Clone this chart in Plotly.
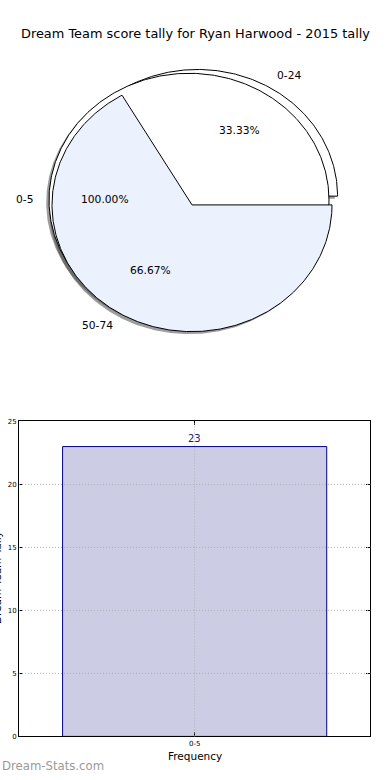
import numpy as np
import plotly.graph_objects as go

# ---------------- data ----------------
title_text = "Dream Team score tally for Ryan Harwood - 2015 tally"
pie_a_labels = ["0-24", "50-74"]
pie_a_values = [1, 2]
pie_a_explode = [0.08, 0.0]
pie_a_colors = ["#ffffff", "#ebf1fd"]
pie_b_labels = ["0-5"]
pie_b_values = [23]
pie_b_colors = ["#ffffff"]
bar_categories = ["0-5"]
bar_values = [23]
y_ticks = [0, 5, 10, 15, 20, 25]
x_label = "Frequency"
y_label = "Dream Team Tally"
watermark = "Dream-Stats.com"

# ---------------- geometry / style ----------------
W, H = 390, 780
FONT = "DejaVu Sans"
PIE_CX_PX, PIE_CY_PX, PIE_RX_PX, PIE_RY_PX = 192, 203, 140, 128
PIE_TOP_PX, PIE_BOT_PX = 40, 380
B_OFFSET = (-3 / PIE_RX_PX, 5 / PIE_RY_PX)
SHADOW_OFF = (-0.02, -0.02)
SHADOW_COLOR = "rgba(60,60,60,0.5)"
GRID = dict(color="#b0b0b0", width=1, dash="1px,2px")

fig = go.Figure()


def wedge_xy(cx, cy, t1, t2, full=False):
    n = max(8, int(abs(t2 - t1) * 1.5))
    t = np.radians(np.linspace(t1, t2, n))
    xs = cx + np.cos(t)
    ys = cy + np.sin(t)
    if full:
        return list(xs) + [xs[0]], list(ys) + [ys[0]]
    return [cx] + list(xs) + [cx], [cy] + list(ys) + [cy]


def pie_wedges(values, explode, base):
    total = float(sum(values))
    out = []
    start = 0.0
    for i, v in enumerate(values):
        frac = v / total
        t1, t2 = start, start + 360 * frac
        mid = np.radians((t1 + t2) / 2)
        e = explode[i] if explode else 0.0
        cx = base[0] + e * np.cos(mid)
        cy = base[1] + e * np.sin(mid)
        out.append(dict(t1=t1, t2=t2, mid=mid, cx=cx, cy=cy, frac=frac,
                        full=(frac >= 0.9999)))
        start = t2
    return out


wa = pie_wedges(pie_a_values, pie_a_explode, (0.0, 0.0))
wb = pie_wedges(pie_b_values, None, B_OFFSET)


def add_poly(xs, ys, fill, line_color, line_width):
    fig.add_trace(go.Scatter(
        x=xs, y=ys, mode="lines", fill="toself", fillcolor=fill,
        line=dict(color=line_color, width=line_width),
        xaxis="x2", yaxis="y2", hoverinfo="skip", showlegend=False))


# shadows
for w in wa + wb:
    xs, ys = wedge_xy(w["cx"] + SHADOW_OFF[0], w["cy"] + SHADOW_OFF[1],
                      w["t1"], w["t2"], w["full"])
    add_poly(xs, ys, SHADOW_COLOR, "rgba(0,0,0,0)", 0)

# draw order: exploded first wedge of A, then B, then rest of A
order = [(wa[0], pie_a_colors[0])] + [(w, pie_b_colors[i]) for i, w in enumerate(wb)] + \
        [(w, pie_a_colors[i + 1]) for i, w in enumerate(wa[1:])]
for w, col in order:
    xs, ys = wedge_xy(w["cx"], w["cy"], w["t1"], w["t2"], w["full"])
    add_poly(xs, ys, col, "black", 1)

annotations = []
for labels, wedges in ((pie_a_labels, wa), (pie_b_labels, wb)):
    for lab, w in zip(labels, wedges):
        lx = w["cx"] + 1.1 * np.cos(w["mid"])
        ly = w["cy"] + 1.1 * np.sin(w["mid"])
        annotations.append(dict(
            x=lx, y=ly, xref="x2", yref="y2", text=lab, showarrow=False,
            xanchor="left" if lx > 0 else "right", yanchor="middle",
            font=dict(family=FONT, size=10.7, color="black")))
        px_ = w["cx"] + 0.6 * np.cos(w["mid"])
        py_ = w["cy"] + 0.6 * np.sin(w["mid"])
        annotations.append(dict(
            x=px_, y=py_, xref="x2", yref="y2", text=f"{100 * w['frac']:.2f}%",
            showarrow=False, xanchor="center", yanchor="middle",
            font=dict(family=FONT, size=10.7, color="black")))

# ---------------- bar chart ----------------
BAR_WIDTH = 0.8
xpos = list(range(len(bar_categories)))
fig.add_trace(go.Bar(
    x=xpos, y=bar_values, width=BAR_WIDTH,
    marker=dict(color="#cccce4", line=dict(color="#000080", width=1)),
    xaxis="x", yaxis="y", hoverinfo="skip", showlegend=False))

for xp, v in zip(xpos, bar_values):
    annotations.append(dict(
        x=xp, y=v, xref="x", yref="y", text=str(v), showarrow=False,
        xanchor="center", yanchor="bottom", yshift=1,
        font=dict(family=FONT, size=10, color="#1a1a6e")))

shapes = []
for t in y_ticks[1:-1]:
    shapes.append(dict(type="line", xref="x domain", yref="y", x0=0, x1=1, y0=t, y1=t,
                       line=GRID, layer="above"))
for xp in xpos:
    shapes.append(dict(type="line", xref="x", yref="y domain", x0=xp, x1=xp, y0=0, y1=1,
                       line=GRID, layer="above"))

# title, axis labels, watermark
annotations.append(dict(x=0.5, y=1 - 30 / H, xref="paper", yref="paper", text=title_text,
                        showarrow=False, xanchor="center", yanchor="middle",
                        font=dict(family=FONT, size=12.9, color="black")))
annotations.append(dict(x=194.5 / W, y=1 - 760 / H, xref="paper", yref="paper", text=x_label,
                        showarrow=False, xanchor="center", yanchor="middle",
                        font=dict(family=FONT, size=10.5, color="black")))
annotations.append(dict(x=-3 / W, y=1 - 580 / H, xref="paper", yref="paper", text=y_label,
                        showarrow=False, xanchor="center", yanchor="middle", textangle=-90,
                        font=dict(family=FONT, size=10.5, color="black")))
annotations.append(dict(x=0, y=1 - 770 / H, xref="paper", yref="paper", text=watermark,
                        showarrow=False, xanchor="left", yanchor="middle",
                        font=dict(family=FONT, size=11.7, color="#999999")))

pie_y_dom = [1 - PIE_BOT_PX / H, 1 - PIE_TOP_PX / H]
fig.update_layout(
    width=W, height=H, margin=dict(l=0, r=0, t=0, b=0),
    paper_bgcolor="white", plot_bgcolor="white",
    showlegend=False, annotations=annotations, shapes=shapes,
    xaxis=dict(domain=[19 / W, 370.3 / W], range=[-0.532, 0.532],
               tickvals=xpos, ticktext=bar_categories, ticks="inside", ticklen=4,
               tickcolor="black", showline=True, linecolor="black", linewidth=1,
               mirror="ticks", showgrid=False, zeroline=False,
               tickfont=dict(family=FONT, size=7, color="black")),
    yaxis=dict(domain=[1 - 740 / H, 1 - 421.7 / H], range=[0, 25], tickvals=y_ticks,
               ticks="inside", ticklen=4, tickcolor="black", showline=True,
               linecolor="black", linewidth=1, mirror="ticks", showgrid=False,
               zeroline=False, tickfont=dict(family=FONT, size=7, color="black")),
    xaxis2=dict(domain=[0, 1], anchor="y2",
                range=[-PIE_CX_PX / PIE_RX_PX, (W - PIE_CX_PX) / PIE_RX_PX],
                visible=False, fixedrange=True),
    yaxis2=dict(domain=pie_y_dom, anchor="x2",
                range=[(PIE_CY_PX - PIE_BOT_PX) / PIE_RY_PX, (PIE_CY_PX - PIE_TOP_PX) / PIE_RY_PX],
                visible=False, fixedrange=True),
)

fig.write_html("out.html", config={"displayModeBar": False},
               post_script="document.body.style.margin='0';document.body.style.padding='0';")
